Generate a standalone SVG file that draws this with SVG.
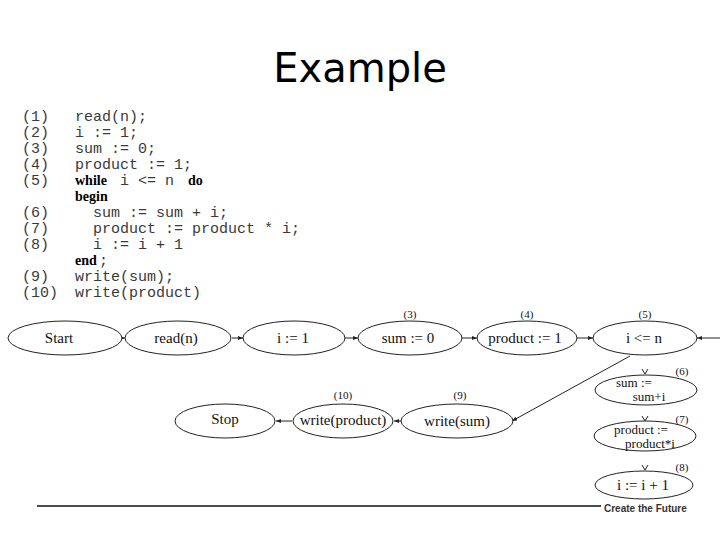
<svg xmlns="http://www.w3.org/2000/svg" width="720" height="540" viewBox="0 0 720 540">
<defs>
<style>
.title{font-family:"DejaVu Sans",sans-serif;font-size:40px;fill:#000}
.code{font-family:"Liberation Mono",monospace;font-size:15px;fill:#3a3a3a}
.kw{font-family:"Liberation Serif",serif;font-size:14px;font-weight:bold;fill:#000}
.node ellipse{fill:#fff;stroke:#222;stroke-width:1}
.lbl{font-family:"Liberation Serif",serif;font-size:15px;fill:#111;text-anchor:middle}
.lbl2{font-family:"Liberation Serif",serif;font-size:13px;fill:#111;text-anchor:middle}
.num{font-family:"Liberation Serif",serif;font-size:11px;fill:#111;text-anchor:middle}
.edge{stroke:#222;stroke-width:1;fill:none}
.foot{font-family:"Liberation Sans",sans-serif;font-size:10px;font-weight:bold;fill:#333}
</style>
<marker id="ah" viewBox="0 0 10 10" refX="10" refY="5" markerWidth="5" markerHeight="5" orient="auto">
<path d="M0,1 L10,5 L0,9 z" fill="#222"/>
</marker>
</defs>
<rect width="720" height="540" fill="#fff"/>
<text class="title" x="360" y="82" text-anchor="middle">Example</text>

<g id="code">
<text class="code" x="22" y="121">(1)</text><text class="code" x="75" y="121">read(n);</text>
<text class="code" x="22" y="137">(2)</text><text class="code" x="75" y="137">i := 1;</text>
<text class="code" x="22" y="153">(3)</text><text class="code" x="75" y="153">sum := 0;</text>
<text class="code" x="22" y="169">(4)</text><text class="code" x="75" y="169">product := 1;</text>
<text class="code" x="22" y="185">(5)</text><text class="kw" x="75" y="185">while</text><text class="code" x="120" y="185">i &lt;= n</text><text class="kw" x="188" y="185">do</text>
<text class="kw" x="75" y="201">begin</text>
<text class="code" x="22" y="217">(6)</text><text class="code" x="93" y="217">sum := sum + i;</text>
<text class="code" x="22" y="233">(7)</text><text class="code" x="93" y="233">product := product * i;</text>
<text class="code" x="22" y="249">(8)</text><text class="code" x="93" y="249">i := i + 1</text>
<text class="kw" x="75" y="265">end</text><text class="code" x="99" y="265">;</text>
<text class="code" x="22" y="281">(9)</text><text class="code" x="75" y="281">write(sum);</text>
<text class="code" x="22" y="297">(10)</text><text class="code" x="75" y="297">write(product)</text>
</g>

<g id="connectors">
<line class="edge" x1="109" y1="338" x2="125" y2="338" marker-end="url(#ah)"/>
<line class="edge" x1="232" y1="338" x2="243" y2="338" marker-end="url(#ah)"/>
<line class="edge" x1="345" y1="338" x2="358" y2="338" marker-end="url(#ah)"/>
<line class="edge" x1="462" y1="338" x2="477" y2="338" marker-end="url(#ah)"/>
<line class="edge" x1="577" y1="338" x2="593" y2="338" marker-end="url(#ah)"/>
<line class="edge" x1="720" y1="338" x2="697" y2="338" marker-end="url(#ah)"/>
<line class="edge" x1="630" y1="356" x2="512" y2="421" marker-end="url(#ah)"/>
<line class="edge" x1="404" y1="421" x2="394" y2="421" marker-end="url(#ah)"/>
<line class="edge" x1="292" y1="421" x2="276" y2="421" marker-end="url(#ah)"/>
<path class="edge" d="M642,369 L645,374 L648,369"/>
<path class="edge" d="M642,416 L645,421 L648,416"/>
<path class="edge" d="M642,465 L645,470 L648,465"/>
</g>

<g id="n-start" class="node"><ellipse cx="65" cy="338" rx="57" ry="17"/><text class="lbl" x="59" y="343">Start</text></g>
<g id="n-read" class="node"><ellipse cx="178" cy="338" rx="53" ry="17"/><text class="lbl" x="176" y="343">read(n)</text></g>
<g id="n-i1" class="node"><ellipse cx="294" cy="338" rx="51" ry="17"/><text class="lbl" x="293" y="343">i  := 1</text></g>
<g id="n-sum0" class="node"><text class="num" x="410" y="318">(3)</text><ellipse cx="410" cy="338" rx="52" ry="17"/><text class="lbl" x="408" y="343">sum := 0</text></g>
<g id="n-prod1" class="node"><text class="num" x="527" y="318">(4)</text><ellipse cx="527" cy="338" rx="50" ry="17"/><text class="lbl" x="525" y="343">product := 1</text></g>
<g id="n-cond" class="node"><text class="num" x="645" y="318">(5)</text><ellipse cx="645" cy="338" rx="52" ry="17"/><text class="lbl" x="644" y="343">i &lt;= n</text></g>

<g id="n-sum" class="node"><text class="num" x="682" y="375">(6)</text><ellipse cx="646" cy="390" rx="51" ry="15"/><text class="lbl2" x="634" y="387">sum :=</text><text class="lbl2" x="649" y="401">sum+i</text></g>
<g id="n-prod" class="node"><text class="num" x="682" y="423">(7)</text><ellipse cx="645" cy="436" rx="51" ry="15"/><text class="lbl2" x="641" y="434">product :=</text><text class="lbl2" x="650" y="448">product*i</text></g>
<g id="n-inc" class="node"><text class="num" x="682" y="471">(8)</text><ellipse cx="644" cy="485" rx="49" ry="14"/><text class="lbl" x="643" y="490">i := i + 1</text></g>

<g id="n-stop" class="node"><ellipse cx="225" cy="421" rx="50" ry="17"/><text class="lbl" x="225" y="424">Stop</text></g>
<g id="n-wprod" class="node"><text class="num" x="343" y="399">(10)</text><ellipse cx="343" cy="421" rx="50" ry="17"/><text class="lbl" x="343" y="425">write(product)</text></g>
<g id="n-wsum" class="node"><text class="num" x="460" y="399">(9)</text><ellipse cx="457" cy="421" rx="56" ry="17"/><text class="lbl" x="457" y="426">write(sum)</text></g>

<line x1="37" y1="506" x2="601" y2="506" stroke="#111" stroke-width="1.5"/>
<text class="foot" x="604" y="512">Create the Future</text>
</svg>
